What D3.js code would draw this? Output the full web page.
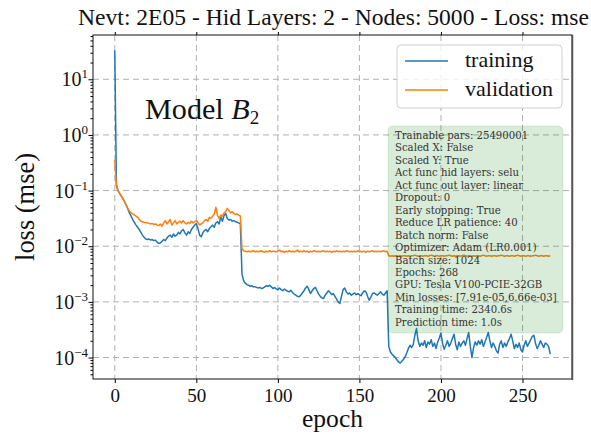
<!DOCTYPE html>
<html><head><meta charset="utf-8">
<script src="https://cdn.jsdelivr.net/npm/d3@7"></script>
<style>
html,body{margin:0;padding:0;background:#fff;}
svg{display:block;}
text{font-family:"Liberation Serif","DejaVu Serif",serif;fill:#111;}
text.info{font-family:"DejaVu Serif",serif;fill:#333;}
</style></head>
<body>
<svg id="chart" width="591" height="436"></svg>
<script>
// ---------------- DATA ----------------
const titleText = "Nevt: 2E05 - Hid Layers: 2 - Nodes: 5000 - Loss: mse";
const xLabel = "epoch";
const yLabel = "loss (mse)";
const seriesNames = ["training", "validation"];
const xTicks = [0, 50, 100, 150, 200, 250];
const yTickExponents = [-4, -3, -2, -1, 0, 1];
const infoLines = [
  "Trainable pars: 25490001",
  "Scaled X: False",
  "Scaled Y: True",
  "Act func hid layers: selu",
  "Act func out layer: linear",
  "Dropout: 0",
  "Early stopping: True",
  "Reduce LR patience: 40",
  "Batch norm: False",
  "Optimizer: Adam (LR0.001)",
  "Batch size: 1024",
  "Epochs: 268",
  "GPU: Tesla V100-PCIE-32GB",
  "Min losses: [7.91e-05,6.66e-03]",
  "Training time: 2340.6s",
  "Prediction time: 1.0s"
];
// log10(loss) per epoch, epochs 0..267
const trainingLog10 = [
  1.52,-0.90,-1.00,-1.05,-1.10,-1.14,-1.20,-1.26,-1.33,-1.40,
  -1.46,-1.52,-1.57,-1.62,-1.66,-1.70,-1.75,-1.80,-1.84,-1.87,
  -1.88,-1.87,-1.89,-1.88,-1.90,-1.89,-1.93,-1.95,-1.94,-1.91,
  -1.88,-1.90,-1.85,-1.82,-1.80,-1.84,-1.78,-1.82,-1.80,-1.75,
  -1.78,-1.72,-1.70,-1.76,-1.80,-1.74,-1.77,-1.70,-1.66,-1.62,
  -1.59,-1.68,-1.80,-1.83,-1.76,-1.72,-1.70,-1.74,-1.68,-1.65,
  -1.62,-1.66,-1.58,-1.56,-1.60,-1.47,-1.55,-1.45,-1.41,-1.50,
  -1.53,-1.52,-1.55,-1.54,-1.56,-1.57,-1.58,-1.60,-2.50,-2.62,
  -2.66,-2.69,-2.70,-2.72,-2.71,-2.73,-2.73,-2.74,-2.75,-2.74,
  -2.76,-2.75,-2.73,-2.71,-2.72,-2.70,-2.73,-2.76,-2.74,-2.77,
  -2.78,-2.75,-2.78,-2.80,-2.77,-2.79,-2.81,-2.82,-2.79,-2.83,
  -2.86,-2.88,-2.90,-2.91,-2.88,-2.84,-2.80,-2.75,-2.72,-2.78,
  -2.85,-2.80,-2.76,-2.74,-2.80,-2.86,-2.90,-2.93,-2.94,-2.88,
  -2.84,-2.80,-2.83,-2.87,-2.85,-2.90,-2.95,-3.00,-3.03,-2.90,
  -2.78,-2.75,-2.82,-2.86,-2.84,-2.88,-2.86,-2.84,-2.87,-2.85,
  -2.87,-2.89,-2.84,-2.80,-2.82,-2.90,-2.97,-2.92,-2.85,-2.84,
  -2.86,-2.88,-2.85,-2.82,-2.86,-2.88,-2.84,-2.80,-3.80,-3.90,
  -3.94,-3.97,-4.00,-4.04,-4.08,-4.10,-4.07,-4.03,-3.99,-3.92,
  -3.84,-3.78,-3.82,-3.77,-3.60,-3.48,-3.70,-3.80,-3.74,-3.78,
  -3.70,-3.82,-3.72,-3.76,-3.68,-3.80,-3.74,-3.84,-3.72,-3.65,
  -3.56,-3.75,-3.85,-3.78,-3.70,-3.80,-3.74,-3.66,-3.58,-3.76,
  -3.86,-3.72,-3.80,-3.74,-3.70,-3.78,-3.66,-3.55,-3.80,-4.00,
  -3.82,-3.72,-3.78,-3.70,-3.76,-3.68,-3.80,-3.72,-3.64,-3.55,
  -3.70,-3.82,-3.74,-3.80,-3.88,-3.92,-3.76,-3.70,-3.82,-3.74,
  -3.80,-3.72,-3.66,-3.58,-3.70,-3.84,-3.76,-3.82,-3.74,-3.86,
  -3.90,-3.78,-3.70,-3.80,-3.74,-3.68,-3.62,-3.60,-3.75,-3.84,
  -3.78,-3.70,-3.76,-3.82,-3.74,-3.76,-3.80,-3.94
];
const validationLog10 = [
  -0.45,-0.92,-1.00,-1.05,-1.10,-1.15,-1.20,-1.26,-1.32,-1.37,
  -1.40,-1.42,-1.44,-1.46,-1.48,-1.52,-1.55,-1.56,-1.57,-1.58,
  -1.58,-1.59,-1.60,-1.59,-1.61,-1.60,-1.62,-1.63,-1.60,-1.64,
  -1.58,-1.54,-1.60,-1.56,-1.52,-1.62,-1.58,-1.54,-1.60,-1.57,
  -1.55,-1.58,-1.54,-1.58,-1.60,-1.57,-1.59,-1.55,-1.58,-1.56,
  -1.54,-1.57,-1.62,-1.60,-1.58,-1.54,-1.52,-1.55,-1.48,-1.50,
  -1.46,-1.42,-1.30,-1.45,-1.50,-1.44,-1.46,-1.40,-1.38,-1.32,
  -1.36,-1.40,-1.38,-1.41,-1.43,-1.42,-1.44,-1.46,-2.04,-2.08,
  -2.09,-2.10,-2.09,-2.10,-2.09,-2.08,-2.10,-2.09,-2.10,-2.09,
  -2.08,-2.10,-2.11,-2.09,-2.10,-2.08,-2.10,-2.09,-2.09,-2.10,
  -2.09,-2.07,-2.10,-2.09,-2.11,-2.09,-2.10,-2.08,-2.10,-2.09,
  -2.10,-2.09,-2.07,-2.10,-2.09,-2.10,-2.08,-2.10,-2.09,-2.11,
  -2.09,-2.10,-2.08,-2.09,-2.10,-2.09,-2.10,-2.09,-2.08,-2.10,
  -2.09,-2.10,-2.09,-2.11,-2.09,-2.10,-2.08,-2.10,-2.09,-2.10,
  -2.09,-2.10,-2.08,-2.09,-2.10,-2.09,-2.10,-2.09,-2.10,-2.08,
  -2.10,-2.09,-2.10,-2.09,-2.11,-2.09,-2.10,-2.09,-2.08,-2.10,
  -2.09,-2.10,-2.09,-2.10,-2.09,-2.08,-2.10,-2.09,-2.17,-2.18,
  -2.17,-2.18,-2.17,-2.17,-2.18,-2.17,-2.18,-2.17,-2.17,-2.18,
  -2.17,-2.18,-2.17,-2.17,-2.16,-2.17,-2.18,-2.17,-2.17,-2.18,
  -2.17,-2.17,-2.18,-2.17,-2.16,-2.17,-2.18,-2.17,-2.17,-2.18,
  -2.17,-2.17,-2.18,-2.17,-2.17,-2.16,-2.17,-2.18,-2.17,-2.18,
  -2.17,-2.17,-2.18,-2.17,-2.16,-2.17,-2.18,-2.17,-2.17,-2.18,
  -2.17,-2.18,-2.17,-2.17,-2.18,-2.17,-2.16,-2.17,-2.18,-2.17,
  -2.17,-2.18,-2.17,-2.17,-2.18,-2.17,-2.17,-2.16,-2.17,-2.18,
  -2.17,-2.17,-2.18,-2.17,-2.17,-2.18,-2.17,-2.16,-2.17,-2.18,
  -2.17,-2.17,-2.18,-2.17,-2.17,-2.18,-2.17,-2.17,-2.16,-2.17,
  -2.18,-2.17,-2.17,-2.18,-2.17,-2.17,-2.18,-2.17
];
const seriesColors = ["#1f77b4", "#ff7f0e"];

// ---------------- LAYOUT ----------------
const svg = d3.select("#chart");
const L = 93, R = 572, T = 35, B = 379;
const epochs = trainingLog10.map((_, i) => i);
const x = d3.scaleLinear().domain([-13.35, 280.35]).range([L, R]);
const y = d3.scaleLog().domain([Math.pow(10, -4.386), Math.pow(10, 1.796)]).range([B, T]);

function fitWidth(sel, target) {
  const fs = parseFloat(sel.attr("font-size"));
  const w = sel.node().getComputedTextLength();
  sel.attr("font-size", fs * target / w);
  return fs * target / w;
}

// grid
const grid = svg.append("g").attr("stroke", "#b0b0b0").attr("stroke-width", 1).attr("stroke-dasharray", "6,4");
xTicks.forEach(t => grid.append("line").attr("x1", x(t)).attr("x2", x(t)).attr("y1", T).attr("y2", B));
yTickExponents.forEach(e => grid.append("line").attr("x1", L).attr("x2", R).attr("y1", y(Math.pow(10, e))).attr("y2", y(Math.pow(10, e))));

// lines
svg.append("clipPath").attr("id", "clip").append("rect").attr("x", L).attr("y", T).attr("width", R - L).attr("height", B - T);
const line = d3.line().x(d => x(d[0])).y(d => y(Math.pow(10, d[1])));
[trainingLog10, validationLog10].forEach((s, k) => {
  svg.append("path").attr("clip-path", "url(#clip)")
    .datum(s.map((v, i) => [epochs[i], v]))
    .attr("fill", "none").attr("stroke", seriesColors[k]).attr("stroke-width", 1.5)
    .attr("stroke-linejoin", "round").attr("d", line);
});

// axes
const xAxis = d3.axisBottom(x).tickValues(xTicks).tickSize(4).tickPadding(6).tickFormat(d3.format("d"));
const gx = svg.append("g").attr("transform", `translate(0,${B})`).call(xAxis);
gx.select(".domain").remove();
gx.selectAll("text").attr("font-size", 19).attr("fill", "#222");
const xTop = d3.axisTop(x).tickValues(xTicks).tickSize(3).tickFormat("");
const gxt = svg.append("g").attr("transform", `translate(0,${T})`).call(xTop);
gxt.select(".domain").remove();

const minorVals = [];
for (let e = -5; e <= 1; e++) for (let m = 2; m <= 9; m++) {
  const v = m * Math.pow(10, e);
  if (v > y.domain()[0] && v < y.domain()[1]) minorVals.push(v);
}
const yMinor = d3.axisLeft(y).tickValues(minorVals).tickSize(2.5).tickFormat("");
const gym = svg.append("g").attr("transform", `translate(${L},0)`).call(yMinor);
gym.select(".domain").remove();
const yAxis = d3.axisLeft(y).tickValues(yTickExponents.map(e => Math.pow(10, e))).tickSize(4.5).tickFormat("");
const gy = svg.append("g").attr("transform", `translate(${L},0)`).call(yAxis);
gy.select(".domain").remove();
yTickExponents.forEach(e => {
  const t = svg.append("text").attr("x", L - 5).attr("y", y(Math.pow(10, e)) + 7)
    .attr("text-anchor", "end").attr("font-size", 20).attr("fill", "#222");
  t.append("tspan").text("10");
  t.append("tspan").attr("dy", -8).attr("font-size", 13).text(e < 0 ? "\u2212" + (-e) : String(e));
});

// spines
svg.append("rect").attr("x", L).attr("y", T).attr("width", R - L).attr("height", B - T)
  .attr("fill", "none").attr("stroke", "#111").attr("stroke-width", 1);
svg.append("line").attr("x1", R + 0.5).attr("x2", R + 0.5).attr("y1", T).attr("y2", B + 1).attr("stroke", "#555").attr("stroke-width", 1.5);

// labels
const title = svg.append("text").attr("x", 333.5).attr("y", 25).attr("text-anchor", "middle").attr("font-size", 20).text(titleText);
fitWidth(title, 511);
const xl = svg.append("text").attr("x", (L + R) / 2).attr("y", 427).attr("text-anchor", "middle").attr("font-size", 24).text(xLabel);
fitWidth(xl, 61);
const yl = svg.append("text").attr("transform", `translate(34,${(T + B) / 2}) rotate(-90)`).attr("text-anchor", "middle").attr("font-size", 24).text(yLabel);
fitWidth(yl, 108);

// Model B2
const mt = svg.append("text").attr("x", 145).attr("y", 119).attr("font-size", 28);
mt.append("tspan").text("Model ");
mt.append("tspan").attr("font-style", "italic").text("B");
mt.append("tspan").attr("dy", 5).attr("font-size", 19).text("2");
fitWidth(mt, 115);

// info box
const bx = 388, by = 126, bw = 175, bh = 207;
svg.append("rect").attr("x", bx).attr("y", by).attr("width", bw).attr("height", bh).attr("rx", 5)
  .attr("fill", "green").attr("fill-opacity", 0.15).attr("stroke", "green").attr("stroke-opacity", 0.12);
const info = svg.append("g");
const infoTexts = infoLines.map((s, i) =>
  info.append("text").attr("class", "info").attr("x", 395).attr("y", 139 + i * 12.45).attr("font-size", 10).text(s));
const gpuIdx = infoLines.findIndex(s => s.startsWith("GPU"));
const minIdx = infoLines.findIndex(s => s.startsWith("Min losses"));
const s1 = fitWidth(infoTexts[gpuIdx], 161);
const s2 = fitWidth(infoTexts[minIdx], 162);
const infoSize = Math.min(11.2, s1, s2);
infoTexts.forEach(t => t.attr("font-size", infoSize));

// legend
const lg = svg.append("g");
lg.append("rect").attr("x", 397).attr("y", 45).attr("width", 165).attr("height", 63).attr("rx", 4)
  .attr("fill", "#fff").attr("fill-opacity", 0.8).attr("stroke", "#d0d0d0");
const legTexts = [];
seriesNames.forEach((n, k) => {
  const yy = 61 + k * 29;
  lg.append("line").attr("x1", 405).attr("x2", 448).attr("y1", yy).attr("y2", yy).attr("stroke", seriesColors[k]).attr("stroke-width", 1.5);
  legTexts.push(lg.append("text").attr("x", 465).attr("y", yy + 6).attr("font-size", 20).text(n));
});
const legSize = fitWidth(legTexts[1], 88);
legTexts.forEach(t => t.attr("font-size", legSize));
</script>
</body></html>
